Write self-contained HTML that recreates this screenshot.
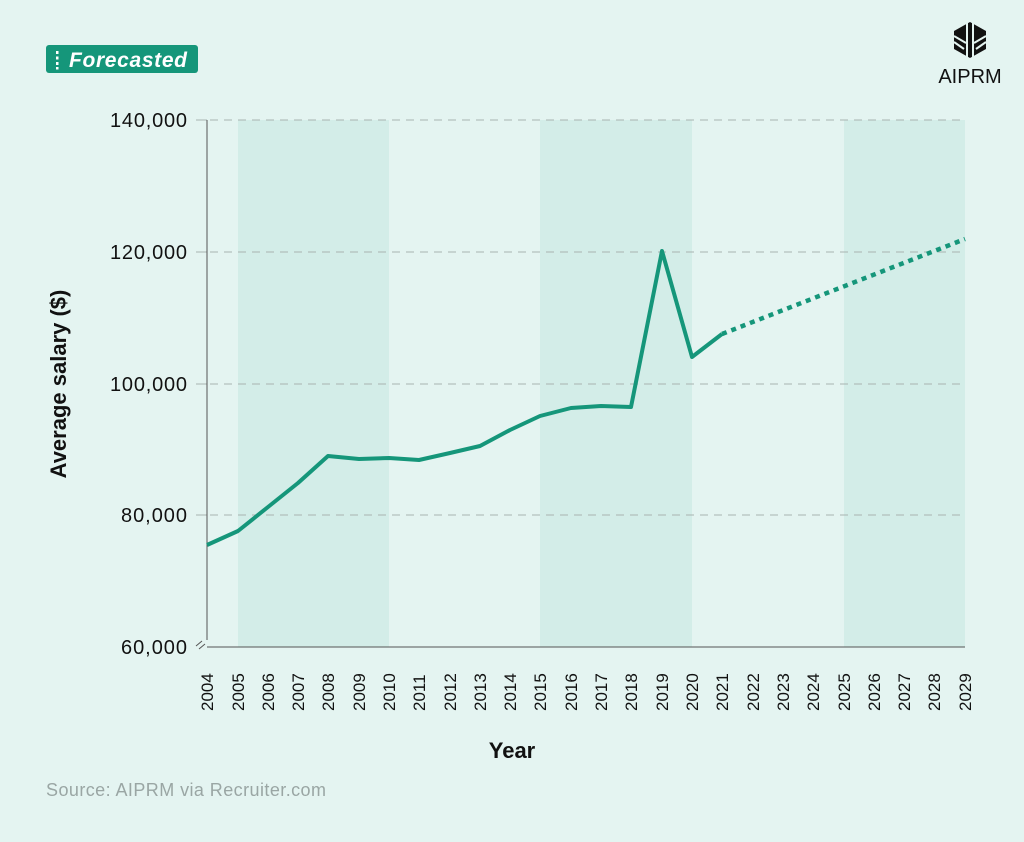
<!DOCTYPE html>
<html><head><meta charset="utf-8"><style>
body{margin:0;background:#e4f4f1;}
svg{display:block;font-family:"Liberation Sans",sans-serif;}
</style></head><body>
<svg width="1024" height="842" viewBox="0 0 1024 842">
<rect width="1024" height="842" fill="#e4f4f1"/>
<rect x="46" y="45" width="152" height="28" rx="3" fill="#15967a"/>
<g fill="#fff"><rect x="56" y="51" width="2.5" height="3"/><rect x="56" y="56.5" width="2.5" height="3"/><rect x="56" y="62" width="2.5" height="3"/><rect x="56" y="67" width="2.5" height="2.5"/></g>
<text x="69" y="67" font-size="21" font-weight="bold" font-style="italic" fill="#fff" textLength="118">Forecasted</text>
<g transform="translate(970,40)">
<polygon points="0,-18 16,-9 16,9 0,18 -16,9 -16,-9" fill="#111"/>
<g stroke="#e4f4f1" stroke-width="2"><line x1="-3" y1="-18" x2="-3" y2="18"/><line x1="3" y1="-18" x2="3" y2="18"/><line x1="-16" y1="-4" x2="-4" y2="3"/><line x1="16" y1="-4" x2="4" y2="3"/><line x1="-16" y1="2" x2="-6" y2="9"/><line x1="16" y1="2" x2="6" y2="9"/></g>
</g>
<text x="970" y="83" font-size="20" text-anchor="middle" fill="#111">AIPRM</text>
<g fill="#d3ede8"><rect x="238" y="120" width="151" height="527"/><rect x="540" y="120" width="152" height="527"/><rect x="844" y="120" width="121" height="527"/></g>
<g stroke="#a9b3b1" stroke-width="1" stroke-dasharray="8,6"><line x1="196" y1="120" x2="965" y2="120"/><line x1="196" y1="252" x2="965" y2="252"/><line x1="196" y1="384" x2="965" y2="384"/><line x1="196" y1="515" x2="965" y2="515"/></g>
<g stroke="#a9b3b1"><line x1="196" y1="120" x2="207" y2="120"/><line x1="196" y1="252" x2="207" y2="252"/><line x1="196" y1="384" x2="207" y2="384"/><line x1="196" y1="515" x2="207" y2="515"/></g>
<line x1="207" y1="120" x2="207" y2="640" stroke="#555" stroke-width="1"/>
<line x1="207" y1="647" x2="965" y2="647" stroke="#555"/>
<path d="M196,646 l6,-5 M199,649 l6,-5" stroke="#555"/>
<g font-size="20" fill="#111" text-anchor="end">
<text x="187" y="127" textLength="77">140,000</text><text x="187" y="259" textLength="77">120,000</text><text x="187" y="391" textLength="77">100,000</text><text x="187" y="522" textLength="66">80,000</text><text x="187" y="654" textLength="66">60,000</text></g>
<text transform="translate(66,384) rotate(-90)" font-size="22" font-weight="bold" text-anchor="middle" fill="#111">Average salary ($)</text>
<text x="512" y="758" font-size="22" font-weight="bold" text-anchor="middle" fill="#111">Year</text>
<text x="46" y="796" font-size="18" fill="#9aa6a4" textLength="280">Source: AIPRM via Recruiter.com</text>
<polyline fill="none" stroke="#15967a" stroke-width="4" stroke-linejoin="round" points="207,545 238,531 268,507 298,483 328,456 359,459 389,458 419,460 450,453 480,446 510,430 540,416 571,408 601,406 631,407 662,251 692,357 722,334"/>
<line x1="722" y1="334" x2="965" y2="239" stroke="#15967a" stroke-width="4.5" stroke-dasharray="5,5"/>
<g font-size="17" fill="#111">
<text transform="translate(213,711) rotate(-90)">2004</text>
<text transform="translate(244,711) rotate(-90)">2005</text>
<text transform="translate(274,711) rotate(-90)">2006</text>
<text transform="translate(304,711) rotate(-90)">2007</text>
<text transform="translate(334,711) rotate(-90)">2008</text>
<text transform="translate(365,711) rotate(-90)">2009</text>
<text transform="translate(395,711) rotate(-90)">2010</text>
<text transform="translate(425,711) rotate(-90)">2011</text>
<text transform="translate(456,711) rotate(-90)">2012</text>
<text transform="translate(486,711) rotate(-90)">2013</text>
<text transform="translate(516,711) rotate(-90)">2014</text>
<text transform="translate(546,711) rotate(-90)">2015</text>
<text transform="translate(577,711) rotate(-90)">2016</text>
<text transform="translate(607,711) rotate(-90)">2017</text>
<text transform="translate(637,711) rotate(-90)">2018</text>
<text transform="translate(668,711) rotate(-90)">2019</text>
<text transform="translate(698,711) rotate(-90)">2020</text>
<text transform="translate(728,711) rotate(-90)">2021</text>
<text transform="translate(759,711) rotate(-90)">2022</text>
<text transform="translate(789,711) rotate(-90)">2023</text>
<text transform="translate(819,711) rotate(-90)">2024</text>
<text transform="translate(850,711) rotate(-90)">2025</text>
<text transform="translate(880,711) rotate(-90)">2026</text>
<text transform="translate(910,711) rotate(-90)">2027</text>
<text transform="translate(940,711) rotate(-90)">2028</text>
<text transform="translate(971,711) rotate(-90)">2029</text>
</g>
</svg>
</body></html>
